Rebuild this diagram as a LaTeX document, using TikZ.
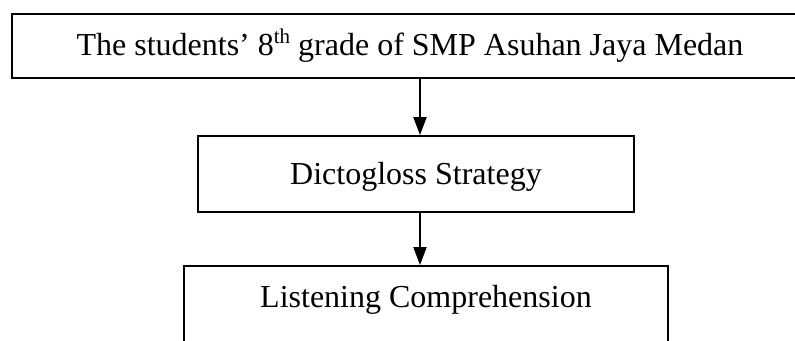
\documentclass[tikz,border=0pt]{standalone}
\usepackage{fontspec}
\setmainfont{Liberation Serif}
\usetikzlibrary{arrows.meta}
\newcommand{\supth}[1]{\raisebox{12pt}{\fontsize{21}{21}\selectfont #1}}
\tikzset{
  boxnode/.style={draw=black, line width=1.8pt, inner sep=0pt, align=center,
    font=\fontsize{32}{38}\selectfont, text height=21pt},
  arr/.style={line width=2pt, -{Triangle[length=18pt,width=13pt]}}
}
\begin{document}
\begin{tikzpicture}[x=1pt,y=-1pt]
\useasboundingbox (0,0) rectangle (795,340);
\clip (0,0) rectangle (795,340);
\node[boxnode, minimum width=796pt, minimum height=64pt, text depth=3pt] (top) at (410,46)
  {The students' 8\supth{th} grade of SMP Asuhan Jaya Medan};
\node[boxnode, minimum width=436pt, minimum height=76pt, text depth=0pt] (mid) at (416,174)
  {Dictogloss Strategy};
\node[boxnode, minimum width=484pt, minimum height=90pt, text depth=29pt] (bot) at (426,311)
  {Listening Comprehension};
\draw[arr] ([xshift=4pt]mid.north |- top.south) -- ([xshift=4pt]mid.north);
\draw[arr] ([xshift=4pt]mid.south) -- ([xshift=4pt]mid.south |- bot.north);
\end{tikzpicture}
\end{document}
